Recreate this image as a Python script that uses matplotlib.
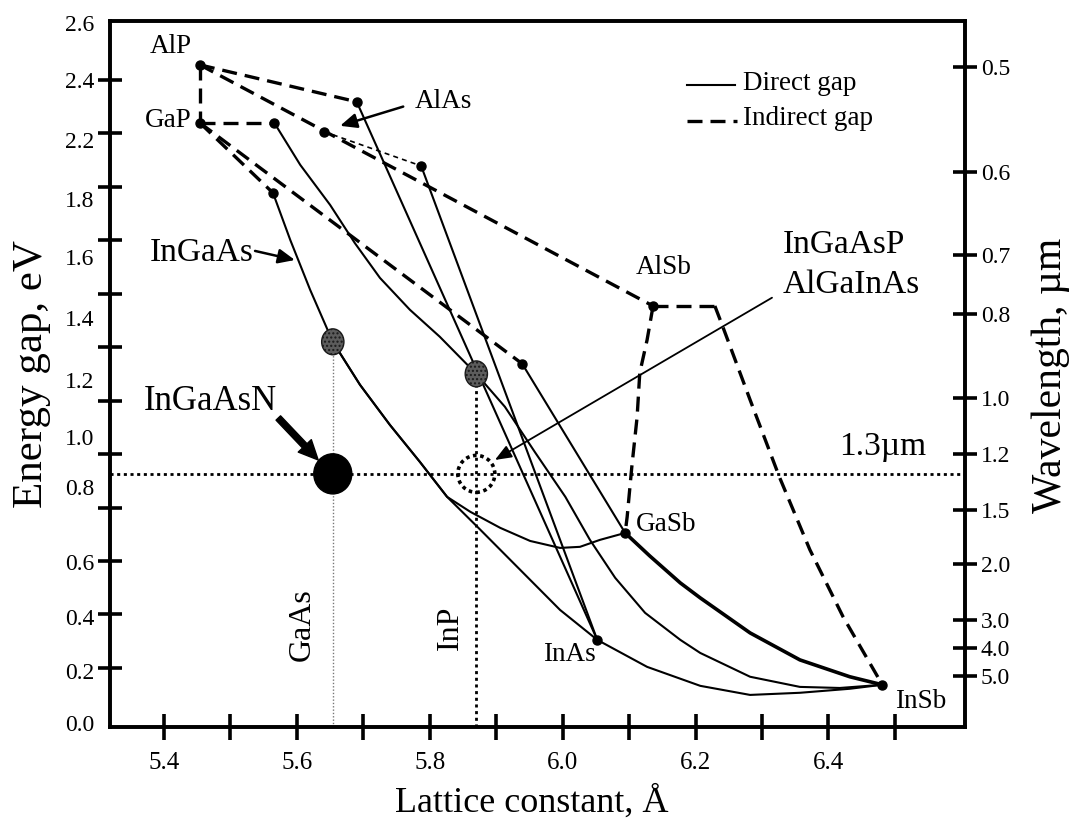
import numpy as np
import matplotlib
matplotlib.use("Agg")
import matplotlib.pyplot as plt
from matplotlib.patches import Ellipse
from matplotlib.ticker import FixedLocator, FixedFormatter, NullFormatter

plt.rcParams['font.family'] = ['Liberation Serif', 'DejaVu Serif']

# ---------------- data (lattice constant in Angstrom, energy gap in eV) ----------------
node_names = ['AlP', 'GaP', 'n1', 'n2', 'AlAs', 'n3', 'n4', 'n5', 'AlSb', 'GaSb', 'InAs', 'InSb']
node_a = [5.454, 5.454, 5.566, 5.564, 5.641, 5.690, 5.787, 5.939, 6.136, 6.094, 6.052, 6.481]
node_eg = [2.456, 2.239, 2.239, 1.977, 2.206, 2.318, 2.078, 1.338, 1.554, 0.705, 0.305, 0.137]

# indirect-gap (dashed) branches
ind_alp_gap_a, ind_alp_gap_eg = [5.454, 5.454], [2.456, 2.239]
ind_gap_n1_a, ind_gap_n1_eg = [5.454, 5.566], [2.239, 2.239]
ind_alp_n3_a, ind_alp_n3_eg = [5.454, 5.690], [2.456, 2.318]
ind_alp_alsb_a, ind_alp_alsb_eg = [5.454, 6.136], [2.456, 1.554]
ind_alas_n4_a, ind_alas_n4_eg = [5.641, 5.787], [2.206, 2.078]
ind_gap_n2_a, ind_gap_n2_eg = [5.454, 5.564], [2.239, 1.977]
ind_gap_n5_a, ind_gap_n5_eg = [5.454, 5.939], [2.239, 1.338]
ind_alsb_top_a, ind_alsb_top_eg = [6.136, 6.229], [1.554, 1.554]
ind_alsb_gasb_a = [6.136, 6.127, 6.116, 6.112, 6.104, 6.097, 6.094]
ind_alsb_gasb_eg = [1.554, 1.427, 1.304, 1.139, 0.952, 0.765, 0.705]
ind_alsb_insb_a = [6.229, 6.241, 6.282, 6.326, 6.372, 6.422, 6.481]
ind_alsb_insb_eg = [1.554, 1.476, 1.203, 0.915, 0.642, 0.391, 0.137]

# direct-gap (solid) branches
dir_n3_inas_a, dir_n3_inas_eg = [5.690, 6.052], [2.318, 0.305]
dir_n4_inas_a, dir_n4_inas_eg = [5.787, 6.052], [2.078, 0.305]
dir_n5_gasb_a, dir_n5_gasb_eg = [5.939, 6.094], [1.338, 0.705]
dir_gainp_a = [5.566, 5.605, 5.650, 5.687, 5.725, 5.770, 5.815, 5.870]
dir_gainp_eg = [2.239, 2.082, 1.932, 1.790, 1.659, 1.540, 1.439, 1.300]
dir_ingaas_a = [5.564, 5.590, 5.620, 5.654, 5.695, 5.740, 5.785, 5.826, 5.876, 5.936,
                5.996, 6.052, 6.127, 6.207, 6.282, 6.357, 6.432, 6.481]
dir_ingaas_eg = [1.977, 1.801, 1.614, 1.420, 1.259, 1.109, 0.971, 0.840, 0.717, 0.567,
                 0.417, 0.305, 0.204, 0.133, 0.099, 0.107, 0.122, 0.137]
dir_gaassb_a = [5.654, 5.695, 5.740, 5.785, 5.826, 5.861, 5.906, 5.951, 5.996, 6.026, 6.056, 6.094]
dir_gaassb_eg = [1.420, 1.259, 1.109, 0.971, 0.840, 0.784, 0.724, 0.675, 0.649, 0.653, 0.679, 0.705]
dir_inpsb_a = [5.870, 5.913, 5.958, 6.004, 6.041, 6.079, 6.124, 6.177, 6.207, 6.282, 6.357, 6.417, 6.481]
dir_inpsb_eg = [1.300, 1.177, 1.008, 0.840, 0.679, 0.537, 0.406, 0.305, 0.256, 0.167, 0.129, 0.125, 0.137]
dir_gainsb_a = [6.094, 6.131, 6.177, 6.207, 6.282, 6.357, 6.432, 6.481]
dir_gainsb_eg = [0.705, 0.619, 0.518, 0.462, 0.331, 0.230, 0.167, 0.137]

# substrates and target
gaas_a, gaas_eg = 5.654, 1.420
inp_a, inp_eg = 5.870, 1.300
target_eg = 0.926          # 1.3 um
ingaasn_a = 5.654

# axes ticks / labels
x_ticks = [5.4, 5.5, 5.6, 5.7, 5.8, 5.9, 6.0, 6.1, 6.2, 6.3, 6.4, 6.5]
x_ticklabels = ['5.4', '', '5.6', '', '5.8', '', '6.0', '', '6.2', '', '6.4', '']
y_ticks = [0.2, 0.4, 0.6, 0.8, 1.0, 1.2, 1.4, 1.6, 1.8, 2.0, 2.2, 2.4]
y_label_pos = [2.612, 2.399, 2.174, 1.955, 1.738, 1.510, 1.278, 1.065, 0.877, 0.597, 0.391, 0.189, -0.006]
y_labels = ['2.6', '2.4', '2.2', '1.8', '1.6', '1.4', '1.2', '1.0', '0.8', '0.6', '0.4', '0.2', '0.0']
wl_pos = [2.449, 2.056, 1.745, 1.525, 1.210, 1.001, 0.792, 0.587, 0.380, 0.275, 0.170]
wl_labels = ['0.5', '0.6', '0.7', '0.8', '1.0', '1.2', '1.5', '2.0', '3.0', '4.0', '5.0']

# ---------------- figure ----------------
fig = plt.figure(figsize=(10.71, 8.22), dpi=100)
ax = fig.add_axes([0.1027, 0.1159, 0.7983, 0.8585])
ax.set_xlim(5.3187, 6.6054)
ax.set_ylim(-0.02, 2.62)

K = 'black'
DLW = 2.4
DASH = (4.5, 2.4)
SLW = 1.5

def dashed(a, e, lw=DLW, dashes=DASH):
    ax.plot(a, e, color=K, lw=lw, dashes=dashes, solid_capstyle='butt', dash_capstyle='butt', zorder=3)

def solid(a, e, lw=SLW):
    ax.plot(a, e, color=K, lw=lw, zorder=3, solid_joinstyle='round')

dashed(ind_alp_gap_a, ind_alp_gap_eg)
dashed(ind_gap_n1_a, ind_gap_n1_eg)
dashed(ind_alp_n3_a, ind_alp_n3_eg)
dashed(ind_alp_alsb_a, ind_alp_alsb_eg)
dashed(ind_alas_n4_a, ind_alas_n4_eg, lw=1.2, dashes=(3, 2.5))
dashed(ind_gap_n2_a, ind_gap_n2_eg)
dashed(ind_gap_n5_a, ind_gap_n5_eg)
dashed(ind_alsb_top_a, ind_alsb_top_eg)
dashed(ind_alsb_gasb_a, ind_alsb_gasb_eg)
dashed(ind_alsb_insb_a, ind_alsb_insb_eg)

solid(dir_n3_inas_a, dir_n3_inas_eg)
solid(dir_n4_inas_a, dir_n4_inas_eg)
solid(dir_n5_gasb_a, dir_n5_gasb_eg)
solid(dir_gainp_a, dir_gainp_eg)
solid(dir_ingaas_a, dir_ingaas_eg)
solid(dir_gaassb_a, dir_gaassb_eg)
solid(dir_inpsb_a, dir_inpsb_eg)
solid(dir_gainsb_a, dir_gainsb_eg, lw=2.6)

ax.plot(node_a, node_eg, 'o', color=K, ms=6.5, zorder=5, ls='none')

# reference lines
ax.plot([gaas_a, gaas_a], [-0.02, gaas_eg - 0.045], color='#777777', lw=1.0, dashes=(1, 1.4), zorder=2)
ax.plot([inp_a, inp_a], [-0.02, inp_eg - 0.045], color=K, lw=2.0, dashes=(1.1, 1.3), zorder=2)
ax.plot([5.3187, 6.6054], [target_eg, target_eg], color=K, lw=2.0, dashes=(1.1, 1.3), zorder=2)

# substrate spots
for a0, e0 in [(gaas_a, gaas_eg), (inp_a, inp_eg)]:
    ax.add_patch(Ellipse((a0, e0), 0.0335, 0.097, facecolor='#5c5c5c', edgecolor='#1a1a1a',
                         hatch='....', lw=1.0, zorder=6))
ax.add_patch(Ellipse((ingaasn_a, target_eg), 0.0572, 0.150, facecolor=K, edgecolor=K, zorder=6))
ax.add_patch(Ellipse((inp_a, target_eg), 0.0557, 0.138, facecolor='none', edgecolor=K,
                     lw=2.6, linestyle=(0, (1.0, 1.0)), zorder=6))

# labels
small = 19.5
big = 24
ax.text(5.4105, 2.5234, 'AlP', fontsize=small, ha='center', va='center')
ax.text(5.406, 2.2465, 'GaP', fontsize=small, ha='center', va='center')
ax.text(5.8199, 2.3177, 'AlAs', fontsize=small, ha='center', va='center')
ax.text(6.1524, 1.6966, 'AlSb', fontsize=small, ha='center', va='center')
ax.text(6.1555, 0.7351, 'GaSb', fontsize=small, ha='center', va='center')
ax.text(6.0095, 0.2488, 'InAs', fontsize=small, ha='center', va='center')
ax.text(6.5392, 0.0730, 'InSb', fontsize=small, ha='center', va='center')
ax.text(5.4572, 1.7527, 'InGaAs', fontsize=big, ha='center', va='center')
ax.text(5.4690, 1.1980, 'InGaAsN', fontsize=25, ha='center', va='center')
ax.text(6.3315, 1.783, 'InGaAsP', fontsize=big, ha='left', va='center')
ax.text(6.3315, 1.633, 'AlGaInAs', fontsize=big, ha='left', va='center')
ax.text(6.482, 1.027, '1.3\u00b5m', fontsize=big, ha='center', va='center')
ax.text(5.6077, 0.361, 'GaAs', fontsize=23, ha='center', va='center', rotation=90)
ax.text(5.8304, 0.350, 'InP', fontsize=23, ha='center', va='center', rotation=90)

thin_arrow = dict(arrowstyle='-|>,head_length=0.5,head_width=0.22', color=K, lw=1.8,
                  shrinkA=0, shrinkB=0, mutation_scale=20)
ax.annotate('', xy=(5.665, 2.228), xytext=(5.760, 2.300), arrowprops=thin_arrow, zorder=7)
ax.annotate('', xy=(5.597, 1.726), xytext=(5.537, 1.760), arrowprops=thin_arrow, zorder=7)
ax.annotate('', xy=(5.898, 0.978), xytext=(6.315, 1.585),
            arrowprops=dict(arrowstyle='-|>,head_length=0.5,head_width=0.2', color=K, lw=1.3,
                            shrinkA=0, shrinkB=0, mutation_scale=20), zorder=7)
ax.annotate('', xy=(5.632, 0.978), xytext=(5.572, 1.135),
            arrowprops=dict(arrowstyle='simple,head_width=1.3,head_length=1.4,tail_width=0.45',
                            fc=K, ec=K, shrinkA=0, shrinkB=0, mutation_scale=10), zorder=7)

# legend (drawn manually)
ax.plot([0.675, 0.731], [0.910, 0.910], transform=ax.transAxes, color=K, lw=1.5)
ax.plot([0.675, 0.733], [0.858, 0.858], transform=ax.transAxes, color=K, lw=DLW, dashes=DASH)
ax.text(0.740, 0.912, 'Direct gap', transform=ax.transAxes, fontsize=small, ha='left', va='center')
ax.text(0.740, 0.862, 'Indirect gap', transform=ax.transAxes, fontsize=small, ha='left', va='center')

# axes styling
SPW = 2.6
for s in ax.spines.values():
    s.set_linewidth(SPW)
ax.set_xticks(x_ticks)
ax.set_xticklabels(x_ticklabels)
ax.tick_params(axis='x', which='major', direction='inout', length=19, width=SPW, labelsize=18, pad=9)

ax.set_xlabel('Lattice constant, \u00c5', fontsize=26, va='center')
ax.xaxis.set_label_coords(0.4936, -0.108)
ax.set_ylabel('Energy gap, eV', fontsize=31, va='center')
ax.yaxis.set_label_coords(-0.092, 0.500)

ax2 = ax.twinx()
ax2.set_ylim(ax.get_ylim())
for s in ax2.spines.values():
    s.set_linewidth(SPW)
ax2.yaxis.set_major_locator(FixedLocator(wl_pos))
ax2.yaxis.set_major_formatter(FixedFormatter(wl_labels))
ax2.tick_params(axis='y', which='major', direction='inout', length=17, width=SPW, labelsize=17, pad=3)
ax2.set_ylabel('Wavelength, \u00b5m', fontsize=30, rotation=90, va='center')
ax2.yaxis.set_label_coords(1.100, 0.498)

# left axis: evenly spaced tick marks, labels placed where the original prints them
ax.yaxis.set_major_locator(FixedLocator(y_ticks))
ax.yaxis.set_major_formatter(NullFormatter())
ax.yaxis.set_minor_locator(FixedLocator(y_label_pos))
ax.yaxis.set_minor_formatter(FixedFormatter(y_labels))
ax.yaxis.remove_overlapping_locs = False
ax.tick_params(axis='y', which='major', direction='inout', length=17, width=SPW,
               left=True, right=False)
ax.tick_params(axis='y', which='minor', length=0, labelsize=17, pad=11,
               left=True, labelleft=True, right=False, labelright=False)

fig.savefig('out.png', dpi=100)
